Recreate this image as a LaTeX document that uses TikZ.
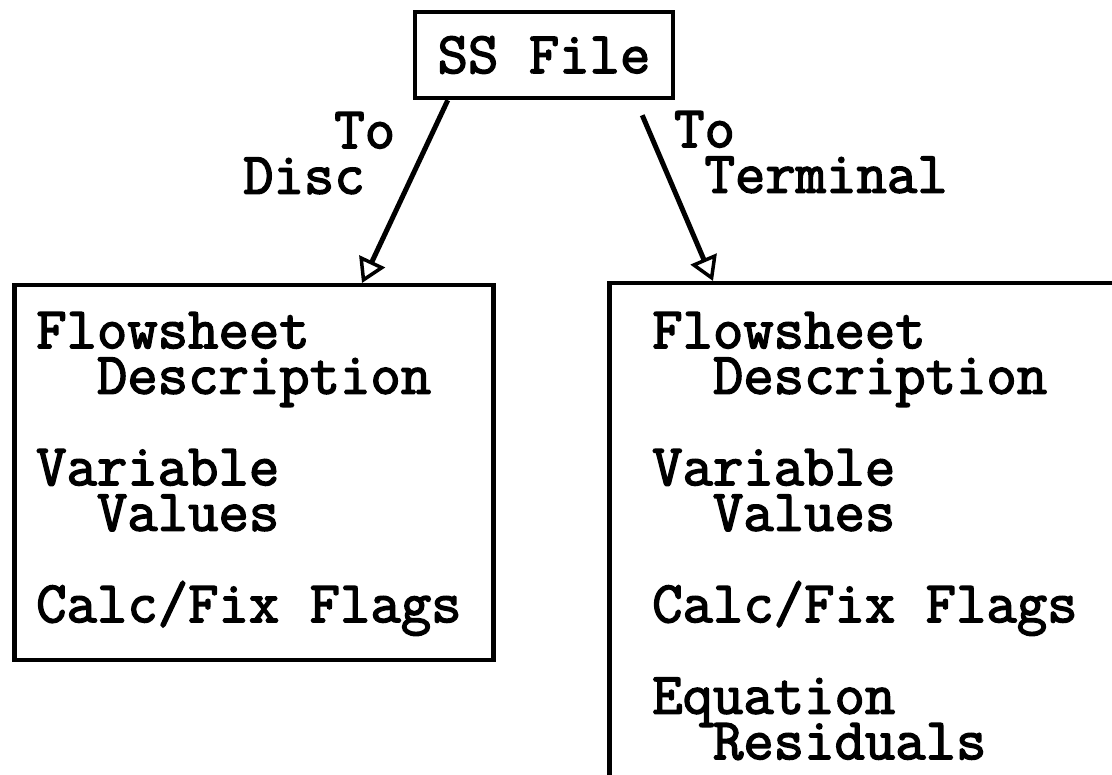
\documentclass[tikz,border=0pt]{standalone}
\usepackage{fontspec}
\setmonofont{Latin Modern Mono}[AutoFakeBold=2.5]
\usetikzlibrary{arrows.meta, calc}
\lineskiplimit=-60pt

\tikzset{
  courier/.style={font=\ttfamily\bfseries\fontsize{59}{45.5}\selectfont},
  box/.style={draw, line width=4.5pt, rectangle, inner sep=0pt},
  flow/.style={line width=5pt, -{Triangle[open, length=24pt, width=28pt, line width=3.5pt]}},
  txt/.style={courier, align=left, inner sep=0pt, anchor=north west},
}
% strut for the first line of a list
\newcommand{\firstln}{\rule{0pt}{40pt}}

\begin{document}
\begin{tikzpicture}[x=1pt, y=1pt]
  \useasboundingbox (0,0) rectangle (1112,775);
  % file at the top
  \node[box, courier, minimum width=258pt, minimum height=86pt] (ss) at (544,720) {SS File};
  % the two boxes it is written to
  \node[box, minimum width=479pt, minimum height=375pt, anchor=north west] (disc) at (12,492) {};
  \node[box, minimum width=600pt, minimum height=600pt, anchor=north west] (term) at (607,494) {};
  \node[txt] (discList) at (36,467) {\firstln Flowsheet\\\hphantom{Fl}Description\\[46pt]
    Variable\\\hphantom{Va}Values\\[46pt]Calc/Fix Flags};
  \node[txt] (termList) at (652,467) {\firstln Flowsheet\\\hphantom{Fl}Description\\[46pt]
    Variable\\\hphantom{Va}Values\\[46pt]Calc/Fix Flags\\[46pt]
    Equation\\\hphantom{Eq}Residuals};
  % arrows and their labels
  \draw[flow] ($(ss.south west)+(35,0)$) -- ($(disc.north west)+(350,0)$);
  \draw[flow] ($(ss.south east)+(-33,-15)$) -- ($(term.north west)+(106,0)$);
  \node[txt] (discLab) at (243,667) {\firstln\hphantom{Dis}To\\Disc};
  \node[txt] (termLab) at (674,668) {\firstln To\\\hphantom{T}Terminal};
\end{tikzpicture}
\end{document}
